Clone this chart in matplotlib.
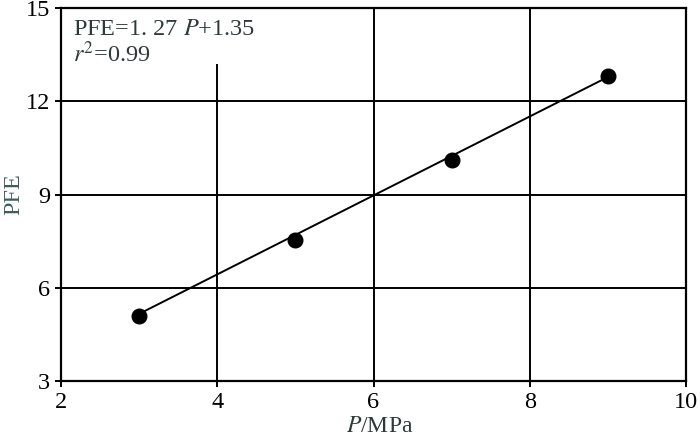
import matplotlib
matplotlib.use("Agg")
import matplotlib.pyplot as plt
from matplotlib.patches import Rectangle
import numpy as np

# data
pressure = [3, 5, 7, 9]
pfe = [5.1, 7.55, 10.1, 12.8]
slope = 1.27
intercept = 1.35
x_ticks = [2, 4, 6, 8, 10]
y_ticks = [3, 6, 9, 12, 15]

plt.rcParams['font.family'] = ['Liberation Serif', 'DejaVu Serif']
plt.rcParams['mathtext.fontset'] = 'stix'

FS = 17.5
fig = plt.figure(figsize=(7, 4.4), dpi=100)
ax = fig.add_axes([61/700, 1-381/440, (686-61)/700, (381-8)/440])

ax.set_xlim(2, 10)
ax.set_ylim(3, 15)
ax.set_xticks(x_ticks)
ax.set_yticks(y_ticks)
ax.set_axisbelow(True)
ax.grid(True, color='black', linewidth=1.4)

# white area behind the equation that hides the top of the gridline
ax.add_patch(Rectangle((0, (13.2-3)/12), (4.3-2)/8, 1-(13.2-3)/12,
                       transform=ax.transAxes, facecolor='white',
                       edgecolor='none', zorder=1))

xs = np.array([pressure[0], pressure[-1]])
ax.plot(xs, slope*xs + intercept, color='black', linewidth=1.4, zorder=3)
ax.plot(pressure, pfe, 'o', color='black', markersize=10.5, zorder=4)

for s in ax.spines.values():
    s.set_linewidth(1.6)
    s.set_zorder(5)

ax.tick_params(direction='out', length=4, width=1.4, labelsize=FS,
               colors='black')
ax.tick_params(axis='x', pad=4)
ax.tick_params(axis='y', pad=4)

ax.text(2.15, 14.3, "PFE=1. 27 $P$+1.35", fontsize=FS, color='#2e3a3a',
        va='center', ha='left', zorder=6)
ax.text(2.15, 13.5, "$r^2$=0.99", fontsize=FS, color='#2e3a3a',
        va='center', ha='left', zorder=6)

ax.set_xlabel("$P$/MPa", fontsize=17, color='#2e3a3a', labelpad=3)
ax.xaxis.set_label_coords(0.51, -0.095)
ax.xaxis.label.set_verticalalignment('top')
ax.set_ylabel("PFE", fontsize=FS, color='#3f5c5c', labelpad=1)

fig.savefig("out.png", dpi=100)
